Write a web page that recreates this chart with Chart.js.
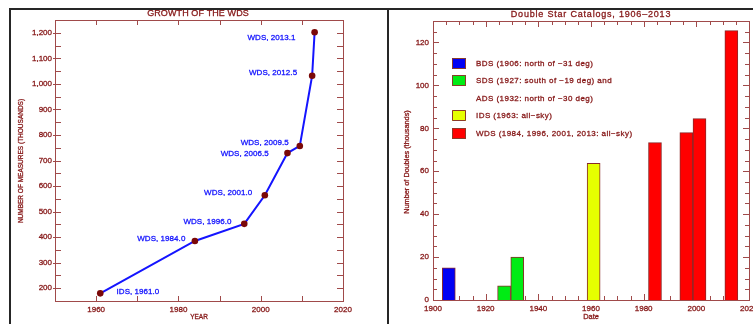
<!DOCTYPE html>
<html>
<head>
<meta charset="utf-8">
<script src="https://cdn.jsdelivr.net/npm/chart.js@4/dist/chart.umd.min.js"></script>
<style>
  html, body { margin: 0; padding: 0; background: #fff; }
  #wrap { position: relative; width: 753px; height: 324px; overflow: hidden; background: #fff; }
  canvas { position: absolute; top: 0; }
  #growth { left: 0; }
  #catalogs { left: 389px; }
  .rule { position: absolute; background: #262626; z-index: 2; }
</style>
</head>
<body>
<div id="wrap">
  <canvas id="growth" width="387" height="324"></canvas>
  <canvas id="catalogs" width="364" height="324"></canvas>
  <div class="rule" style="left:9px;top:8px;width:744px;height:2px;"></div>
  <div class="rule" style="left:9px;top:8px;width:2px;height:316px;"></div>
  <div class="rule" style="left:387px;top:8px;width:2px;height:316px;"></div>
</div>
<script>
// ---- Growth of the WDS: epoch and number of measures (thousands) ----
const growthCatalogs = ['IDS', 'WDS', 'WDS', 'WDS', 'WDS', 'WDS', 'WDS', 'WDS'];
const growthEpochs   = [1961.0, 1984.0, 1996.0, 2001.0, 2006.5, 2009.5, 2012.5, 2013.1];
const growthMeasures = [180, 385, 452, 564, 729, 757, 1032, 1202];

// ---- Double star catalogs: year and number of doubles (thousands) ----
const bdsYears    = [1906];
const bdsCounts   = [15];
const sdsAdsYears = [1927, 1932];
const sdsAdsCounts= [6.6, 20];
const idsYears    = [1961];
const idsCounts   = [63.7];
const wdsYears    = [1984.3, 1996.2, 2001.2, 2013.3];
const wdsCounts   = [73.3, 78, 84.5, 125.5];

const legendLabels = [
  'BDS (1906: north of \u221231 deg)',
  'SDS (1927: south of \u221219 deg) and',
  'ADS (1932: north of \u221230 deg)',
  'IDS (1963: all\u2212sky)',
  'WDS (1984, 1996, 2001, 2013: all\u2212sky)'
];
// dataset shown as a swatch on each legend row (null: continuation line)
const legendSwatch = [0, 1, null, 2, 3];

const AXIS = '#a04a4a';
const INK  = '#861818';
const BLUE = '#1414ff';
const SANS = '"Liberation Sans", Arial, sans-serif';
const WEIGHT = 0.3;   // thin outline that gives the small text a slightly heavier look

function pts(xs, ys) { return xs.map((x, i) => ({ x: x, y: ys[i] })); }

// Box round the plot area with inward tick marks on all four sides
function boxTicks(cfg) {
  return {
    id: 'boxTicks',
    beforeDatasetsDraw(chart) {
      const { ctx, chartArea: a, scales } = chart;
      ctx.save();
      ctx.strokeStyle = AXIS;
      ctx.lineWidth = 1;
      ctx.beginPath();
      const xs = scales.x, ys = scales.y;
      for (let v = xs.min + cfg.xStep; v < xs.max - 1e-6; v += cfg.xStep) {
        const len = (Math.abs(v % cfg.xMajor) < 1e-6) ? cfg.xMajorLen : cfg.xMinorLen;
        const px = Math.round(xs.getPixelForValue(v)) + 0.5;
        ctx.moveTo(px, a.bottom); ctx.lineTo(px, a.bottom - len);
        ctx.moveTo(px, a.top);    ctx.lineTo(px, a.top + len);
      }
      const y0 = Math.ceil((ys.min + 1e-6) / cfg.yStep) * cfg.yStep;
      for (let v = y0; v < ys.max - 1e-6; v += cfg.yStep) {
        const major = Math.abs(v % cfg.yMajor) < 1e-6;
        const len = major ? cfg.yMajorLen : cfg.yMinorLen;
        const out = major ? (cfg.yOut || 0) : 0;
        const py = Math.round(ys.getPixelForValue(v)) + 0.5;
        ctx.moveTo(a.left - out, py); ctx.lineTo(a.left + len, py);
        ctx.moveTo(a.right, py);      ctx.lineTo(a.right - len, py);
      }
      ctx.stroke();
      ctx.strokeRect(Math.round(a.left) + 0.5, Math.round(a.top) + 0.5,
                     Math.round(a.right - a.left), Math.round(a.bottom - a.top));
      ctx.restore();
    }
  };
}

function drawText(ctx, text, x, y, font, color, align, spacing) {
  ctx.font = font;
  ctx.fillStyle = color;
  ctx.strokeStyle = color;
  ctx.lineWidth = WEIGHT;
  ctx.lineJoin = 'round';
  ctx.textAlign = align || 'center';
  ctx.textBaseline = 'middle';
  ctx.letterSpacing = (spacing || 0) + 'px';
  ctx.fillText(text, x, y);
  ctx.strokeText(text, x, y);
  ctx.letterSpacing = '0px';
}

function drawVertical(ctx, text, x, y, font, color) {
  ctx.save();
  ctx.translate(x, y);
  ctx.rotate(-Math.PI / 2);
  drawText(ctx, text, 0, 0, font, color, 'center');
  ctx.restore();
}

// keep the plot box fixed: no extra room for the end tick labels
function fixBox(size, key) {
  return s => {
    s[key] = size;
    s.paddingLeft = 0; s.paddingRight = 0; s.paddingTop = 0; s.paddingBottom = 0;
  };
}

// label placement next to each growth point (offset in px, text alignment)
const growthLabelPlacement = [
  { dx: 16.3, dy: -2, align: 'left' },
  { dx: -9.5, dy: -2, align: 'right' },
  { dx: -12.7, dy: -2.4, align: 'right' },
  { dx: -12.6, dy: -2, align: 'right' },
  { dx: -18.7, dy: 0.7, align: 'right' },
  { dx: -11, dy: -3, align: 'right' },
  { dx: -15, dy: -2.5, align: 'right' },
  { dx: -19, dy: 5.6, align: 'right' }
];

const growthText = {
  id: 'growthText',
  afterDraw(chart) {
    const { ctx, chartArea: a } = chart;
    const cx = (a.left + a.right) / 2;
    ctx.save();
    drawText(ctx, 'GROWTH OF THE WDS', cx - 1, 14, '9px ' + SANS, INK, 'center', 0.1);
    drawText(ctx, 'YEAR', cx, 317, '6.5px ' + SANS, INK, 'center');
    drawVertical(ctx, 'NUMBER OF MEASURES (THOUSANDS)', 21.7, 161, '6.5px ' + SANS, INK);
    const meta = chart.getDatasetMeta(0);
    meta.data.forEach((p, i) => {
      const pl = growthLabelPlacement[i];
      const label = growthCatalogs[i] + ', ' + growthEpochs[i].toFixed(1);
      drawText(ctx, label, p.x + pl.dx, p.y + pl.dy, '8px ' + SANS, BLUE, pl.align, 0.05);
    });
    ctx.restore();
  }
};

const tickFont = { family: SANS, size: 8 };

new Chart(document.getElementById('growth'), {
  type: 'line',
  data: {
    datasets: [{
      data: pts(growthEpochs, growthMeasures),
      borderColor: BLUE,
      borderWidth: 2,
      tension: 0,
      pointRadius: 3.3,
      pointBackgroundColor: '#7a0808',
      pointBorderWidth: 0
    }]
  },
  options: {
    responsive: false,
    animation: false,
    devicePixelRatio: 1,
    layout: { padding: { top: 20, right: 44, left: 0, bottom: 0 } },
    plugins: { legend: { display: false }, tooltip: { enabled: false } },
    scales: {
      x: {
        type: 'linear', min: 1950, max: 2020,
        grid: { display: false, drawTicks: false }, border: { display: false },
        ticks: {
          stepSize: 10, autoSkip: false, maxRotation: 0, padding: 4,
          color: INK, font: tickFont, textStrokeColor: INK, textStrokeWidth: WEIGHT,
          callback: v => (v % 20 === 0 ? String(v) : '')
        },
        afterFit: fixBox(23, 'height')
      },
      y: {
        type: 'linear', min: 150, max: 1250,
        grid: { display: false, drawTicks: false }, border: { display: false },
        ticks: {
          stepSize: 50, autoSkip: false, padding: 3,
          color: INK, font: tickFont, textStrokeColor: INK, textStrokeWidth: WEIGHT,
          callback: v => (v % 100 === 0 ? v.toLocaleString('en-US') : '')
        },
        afterFit: fixBox(55, 'width')
      }
    }
  },
  plugins: [
    boxTicks({ xStep: 10, xMajor: 10, xMajorLen: 5, xMinorLen: 5,
               yStep: 50, yMajor: 100, yMajorLen: 6, yMinorLen: 6, yOut: 2 }),
    growthText
  ]
});

const catalogText = {
  id: 'catalogText',
  afterDraw(chart) {
    const { ctx, chartArea: a } = chart;
    const cx = (a.left + a.right) / 2;
    ctx.save();
    drawText(ctx, 'Double Star Catalogs, 1906\u20132013', cx, 14.3, '9px ' + SANS, INK, 'center', 0.8);
    drawText(ctx, 'Date', cx, 317, '7.4px ' + SANS, INK, 'center');
    drawVertical(ctx, 'Number of Doubles (thousands)', 17.7, 162, '7.3px ' + SANS, INK);
    // legend inside the plot
    const boxX = a.left + 19, textX = a.left + 43;
    legendLabels.forEach((txt, i) => {
      const y = 63.3 + i * 17.5;
      const k = legendSwatch[i];
      if (k !== null) {
        ctx.fillStyle = chart.data.datasets[k].backgroundColor;
        ctx.fillRect(boxX, Math.round(y - 5.5), 14, 11);
        ctx.strokeStyle = '#8a3a2a';
        ctx.lineWidth = 1;
        ctx.strokeRect(boxX + 0.5, Math.round(y - 5.5) + 0.5, 13, 10);
      }
      drawText(ctx, txt, textX, y, '8px ' + SANS, INK, 'left', 0.45);
    });
    ctx.restore();
  }
};

const barStyle = { borderColor: '#8a2a2a', borderWidth: 1, barThickness: 13, grouped: false };

new Chart(document.getElementById('catalogs'), {
  type: 'bar',
  data: {
    datasets: [
      Object.assign({ data: pts(bdsYears, bdsCounts),       backgroundColor: '#0000f4' }, barStyle),
      Object.assign({ data: pts(sdsAdsYears, sdsAdsCounts), backgroundColor: '#00ec14' }, barStyle),
      Object.assign({ data: pts(idsYears, idsCounts),       backgroundColor: '#e6ff00' }, barStyle),
      Object.assign({ data: pts(wdsYears, wdsCounts),       backgroundColor: '#ff0000' }, barStyle)
    ]
  },
  options: {
    responsive: false,
    animation: false,
    devicePixelRatio: 1,
    layout: { padding: { top: 21, right: 4, left: 0, bottom: 0 } },
    plugins: { legend: { display: false }, tooltip: { enabled: false } },
    scales: {
      x: {
        type: 'linear', min: 1900, max: 2020, offset: false,
        grid: { display: false, drawTicks: false, offset: false }, border: { display: false },
        ticks: {
          stepSize: 20, autoSkip: false, maxRotation: 0, padding: 4,
          color: INK, font: tickFont, textStrokeColor: INK, textStrokeWidth: WEIGHT,
          callback: v => String(v)
        },
        afterFit: fixBox(24, 'height')
      },
      y: {
        type: 'linear', min: 0, max: 130,
        grid: { display: false, drawTicks: false }, border: { display: false },
        ticks: {
          stepSize: 10, autoSkip: false, padding: 4,
          color: INK, font: tickFont, textStrokeColor: INK, textStrokeWidth: WEIGHT,
          callback: v => (v % 20 === 0 ? String(v) : '')
        },
        afterFit: fixBox(44, 'width')
      }
    }
  },
  plugins: [
    boxTicks({ xStep: 5, xMajor: 20, xMajorLen: 6, xMinorLen: 4,
               yStep: 5, yMajor: 20, yMajorLen: 6, yMinorLen: 4 }),
    catalogText
  ]
});
</script>
</body>
</html>
